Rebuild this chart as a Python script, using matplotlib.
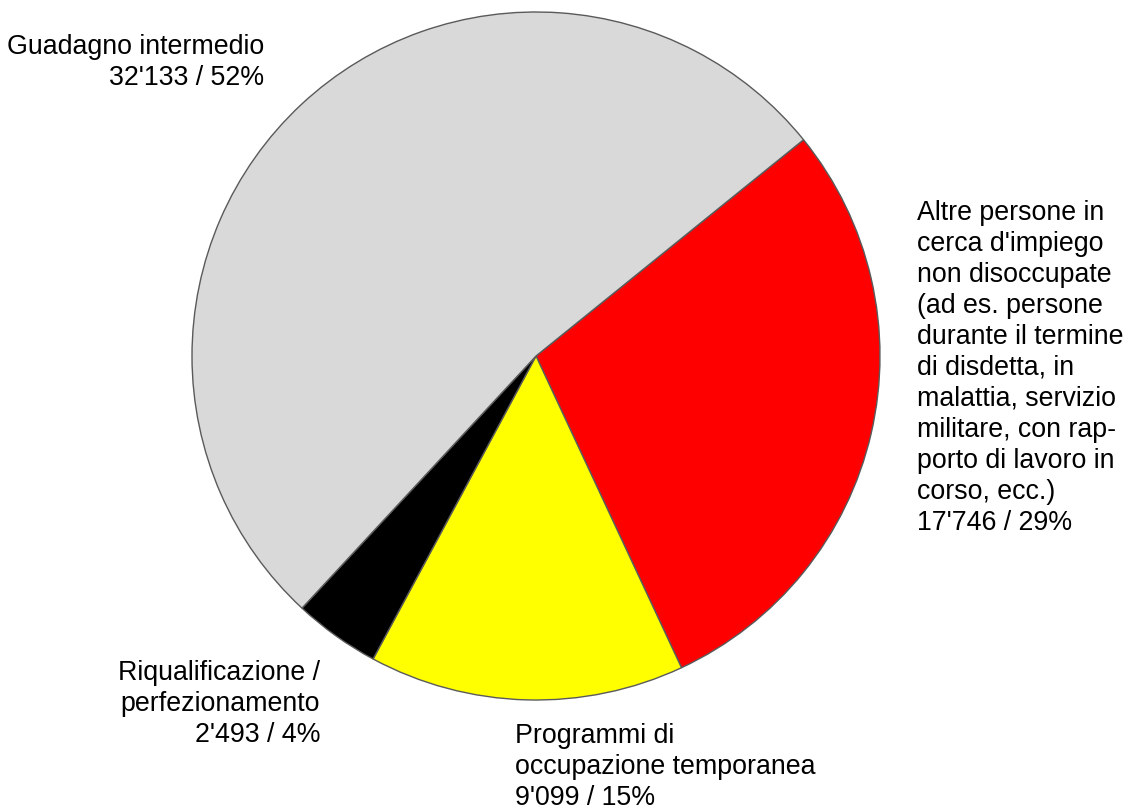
import numpy as np
import matplotlib.pyplot as plt

plt.rcParams['font.family'] = ['Liberation Sans', 'DejaVu Sans']

# data, in clockwise order starting at the grey/red border
categories = [
    "Altre persone in\ncerca d'impiego\nnon disoccupate\n(ad es. persone\ndurante il termine\ndi disdetta, in\nmalattia, servizio\nmilitare, con rap-\nporto di lavoro in\ncorso, ecc.)",
    "Programmi di\noccupazione temporanea",
    "Riqualificazione /\nperfezionamento",
    "Guadagno intermedio",
]
values = [17746, 9099, 2493, 32133]
colors = ['#ff0000', '#ffff00', '#000000', '#d9d9d9']

total = sum(values)
pcts = [round(v / total * 100) for v in values]
texts = [c + "\n" + f"{v:,}".replace(',', "'") + f" / {p}%"
         for c, v, p in zip(categories, values, pcts)]

W, H = 1129, 812
cx, cy, R = 536, 357, 344  # pie centre / radius in pixels

fig = plt.figure(figsize=(W / 100, H / 100), dpi=100)
ax = fig.add_axes([0, 0, 1, 1])

start = np.degrees(np.arctan2(215, 266))
ax.pie(values, colors=colors, startangle=start, counterclock=False,
       wedgeprops=dict(edgecolor='#5a5a5a', linewidth=1.0))

ax.set_xlim(-cx / R, (W - cx) / R)
ax.set_ylim(-(H - cy) / R, cy / R)
ax.set_aspect('auto')
ax.axis('off')


def px(x, y):
    return (x - cx) / R, (cy - y) / R


# label anchors (pixels): x, top, alignment
anchors = [(917, 200, 'left'), (515, 723, 'left'), (320, 660, 'right'), (264, 34, 'right')]
for t, (x, y, ha) in zip(texts, anchors):
    ax.text(*px(x, y), t, ha=ha, va='top', multialignment=ha,
            fontsize=19.3, linespacing=1.25, color='#000000')

fig.savefig('out.png', dpi=100)
